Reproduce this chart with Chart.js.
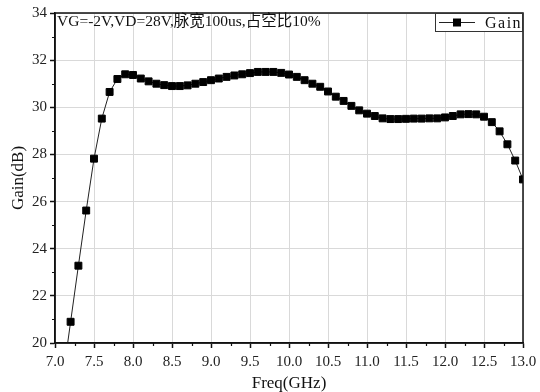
<!DOCTYPE html>
<html>
<head>
<meta charset="utf-8">
<script src="https://cdn.jsdelivr.net/npm/chart.js@4.4.1/dist/chart.umd.min.js"></script>
<style>
  html, body { margin: 0; padding: 0; background: #ffffff; }
  #wrap { width: 540px; height: 392px; position: relative; }
</style>
</head>
<body>
<div id="wrap"><canvas id="gain"></canvas></div>
<script>
// Gain vs frequency, pulsed measurement
const freqGHz = [
  7.1, 7.2, 7.3, 7.4, 7.5, 7.6, 7.7, 7.8, 7.9, 8.0,
  8.1, 8.2, 8.3, 8.4, 8.5, 8.6, 8.7, 8.8, 8.9, 9.0,
  9.1, 9.2, 9.3, 9.4, 9.5, 9.6, 9.7, 9.8, 9.9, 10.0,
  10.1, 10.2, 10.3, 10.4, 10.5, 10.6, 10.7, 10.8, 10.9, 11.0,
  11.1, 11.2, 11.3, 11.4, 11.5, 11.6, 11.7, 11.8, 11.9, 12.0,
  12.1, 12.2, 12.3, 12.4, 12.5, 12.6, 12.7, 12.8, 12.9, 13.0,
];
const gainDb = [
  18.5, 20.9, 23.28, 25.62, 27.82, 29.52, 30.65, 31.2, 31.4, 31.37,
  31.22, 31.1, 31.0, 30.94, 30.9, 30.9, 30.93, 31.0, 31.07, 31.15,
  31.22, 31.29, 31.35, 31.4, 31.45, 31.5, 31.5, 31.5, 31.46, 31.39,
  31.29, 31.15, 31.0, 30.87, 30.67, 30.45, 30.27, 30.06, 29.87, 29.73,
  29.63, 29.53, 29.5, 29.5, 29.51, 29.52, 29.52, 29.53, 29.53, 29.57,
  29.63, 29.7, 29.71, 29.7, 29.6, 29.37, 28.98, 28.43, 27.74, 26.94,
];
const xMinorTicks = [7.25, 7.75, 8.25, 8.75, 9.25, 9.75, 10.25, 10.75, 11.25, 11.75, 12.25, 12.75];
const yMinorTicks = [21, 23, 25, 27, 29, 31, 33];
const seriesLabel = "Gain";
const noteText = "VG=-2V,VD=28V,脉宽100us,占空比10%";

const fontFamily = "'Liberation Serif', 'Noto Sans CJK SC', serif";
const ink = "#111111";

// frame on all four sides plus short minor ticks outside the axes
const framePlugin = {
  id: "frame",
  afterDatasetsDraw(chart) {
    const { ctx, chartArea: a, scales } = chart;
    ctx.save();
    ctx.strokeStyle = ink;
    ctx.lineWidth = 1.5;
    ctx.strokeRect(a.left, a.top, a.right - a.left, a.bottom - a.top);
    ctx.lineWidth = 1.2;
    ctx.beginPath();
    xMinorTicks.forEach((v) => {
      const x = Math.round(scales.x.getPixelForValue(v)) + 0.5;
      ctx.moveTo(x, a.bottom);
      ctx.lineTo(x, a.bottom + 3);
    });
    yMinorTicks.forEach((v) => {
      const y = Math.round(scales.y.getPixelForValue(v)) + 0.5;
      ctx.moveTo(a.left, y);
      ctx.lineTo(a.left - 3, y);
    });
    ctx.stroke();
    ctx.restore();
  },
  afterDraw(chart) {
    const { ctx, chartArea: a } = chart;
    const ds = chart.data.datasets[0];
    ctx.save();

    // condition note, top left inside the plot
    ctx.fillStyle = ink;
    ctx.font = "15.5px " + fontFamily;
    ctx.textBaseline = "middle";
    ctx.textAlign = "left";
    ctx.fillText(noteText, a.left + 2, a.top + 9);

    // legend box, top right
    const boxW = 88, boxH = 19;
    const bx = a.right - boxW, by = a.top;
    ctx.fillStyle = "#ffffff";
    ctx.fillRect(bx, by, boxW, boxH);
    ctx.strokeStyle = "#333333";
    ctx.lineWidth = 1;
    ctx.strokeRect(bx + 0.5, by + 0.5, boxW - 1, boxH - 1);
    const cy = by + boxH / 2;
    ctx.strokeStyle = ds.borderColor;
    ctx.lineWidth = 1;
    ctx.beginPath();
    ctx.moveTo(bx + 4, cy);
    ctx.lineTo(bx + 40, cy);
    ctx.stroke();
    ctx.fillStyle = ds.pointBackgroundColor;
    ctx.fillRect(bx + 22 - 4, cy - 4, 8, 8);
    ctx.fillStyle = ink;
    ctx.font = "16px " + fontFamily;
    ctx.letterSpacing = "1.5px";
    ctx.fillText(seriesLabel, bx + 50, cy + 1);
    ctx.restore();
  },
};

new Chart(document.getElementById("gain"), {
  type: "line",
  data: {
    datasets: [
      {
        label: seriesLabel,
        data: freqGHz.map((f, i) => ({ x: f, y: gainDb[i] })),
        borderColor: "#222222",
        borderWidth: 1,
        pointStyle: "rect",
        pointRadius: 4.9,
        pointBorderWidth: 1,
        pointBackgroundColor: "#000000",
        pointBorderColor: "#000000",
        tension: 0,
      },
    ],
  },
  options: {
    responsive: true,
    maintainAspectRatio: false,
    animation: false,
    layout: { padding: { top: 13, right: 17, left: 0, bottom: 0 } },
    plugins: {
      legend: { display: false },
      tooltip: { enabled: false },
    },
    scales: {
      x: {
        type: "linear",
        min: 7,
        max: 13,
        afterFit: (scale) => {
          scale.height = 49;
          scale.paddingLeft = 0;
          scale.paddingRight = 0;
        },
        ticks: {
          stepSize: 0.5,
          padding: 5,
          color: "#222222",
          font: { family: fontFamily, size: 15 },
          callback: (v) => v.toFixed(1),
        },
        grid: {
          color: "#d9d9d9",
          lineWidth: 1,
          tickColor: ink,
          tickLength: 5,
          tickWidth: 1.5,
        },
        border: { color: ink, width: 1.5 },
        title: {
          display: true,
          text: "Freq(GHz)",
          color: ink,
          font: { family: fontFamily, size: 17, lineHeight: 1 },
          padding: { top: 0, bottom: 0 },
        },
      },
      y: {
        min: 20,
        max: 34,
        afterFit: (scale) => {
          scale.width = 55;
          scale.paddingTop = 0;
          scale.paddingBottom = 0;
        },
        ticks: {
          stepSize: 2,
          padding: 3,
          color: "#222222",
          font: { family: fontFamily, size: 15 },
        },
        grid: {
          color: "#d9d9d9",
          lineWidth: 1,
          tickColor: ink,
          tickLength: 5,
          tickWidth: 1.5,
        },
        border: { color: ink, width: 1.5 },
        title: {
          display: true,
          text: "Gain(dB)",
          color: ink,
          font: { family: fontFamily, size: 17, lineHeight: 1 },
          padding: { top: 10, bottom: 0 },
        },
      },
    },
  },
  plugins: [framePlugin],
});
</script>
</body>
</html>
